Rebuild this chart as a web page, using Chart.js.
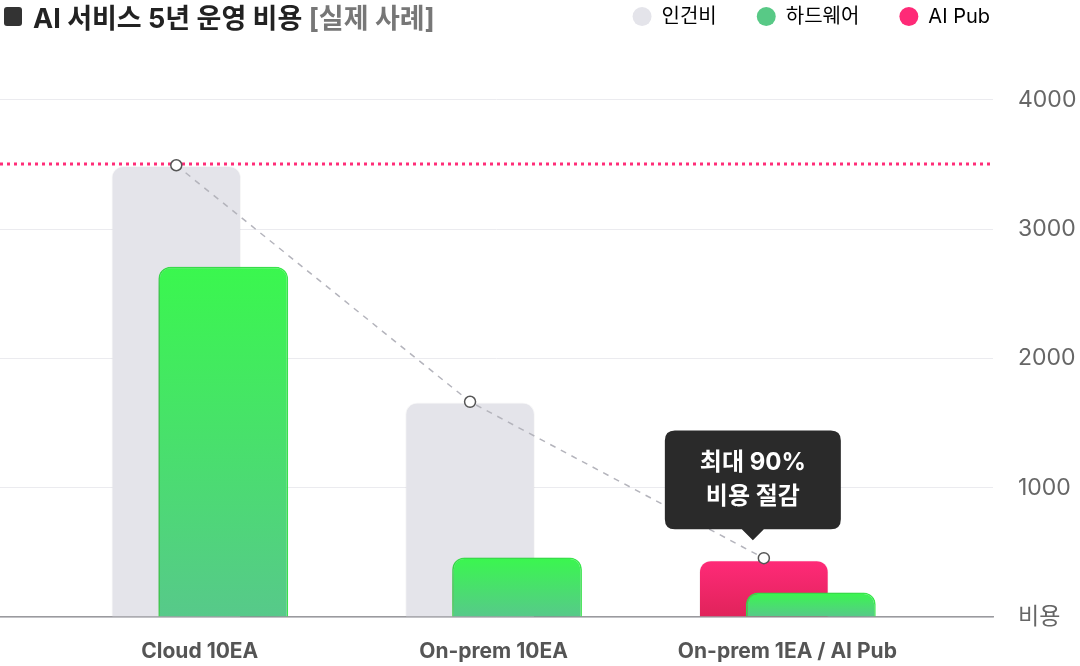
<!DOCTYPE html>
<html lang="ko">
<head>
<meta charset="utf-8">
<script src="https://cdn.jsdelivr.net/npm/chart.js@4/dist/chart.umd.min.js"></script>
<style>
  html, body { margin: 0; padding: 0; background: #fff; }
  #wrap { position: relative; width: 1080px; height: 666px; }
  #title { position: absolute; left: 4px; top: -3px; display: flex; align-items: center;
           font: bold 27px Inter, "Noto Sans CJK KR", sans-serif; color: #222; white-space: pre; }
  #title .box { width: 18px; height: 19px; background: #333; border-radius: 3px; margin-right: 11px; }
  #title .note { color: #777; }
</style>
</head>
<body>
<div id="wrap">
  <canvas id="cost-chart" width="1080" height="666"></canvas>
  <div id="title"><span class="box"></span>AI 서비스 5년 운영 비용 <span class="note">[실제 사례]</span></div>
</div>
<script>
'use strict';

// data
const categories = ['Cloud 10EA', 'On-prem 10EA', 'On-prem 1EA / AI Pub'];
const backSeries = ['인건비', '인건비', 'AI Pub'];
const backValues = [3490, 1660, 440];
const hardwareValues = [2710, 460, 190];
const trendValues = [3495, 1665, 455];
const targetValue = 3505;
const yTickValues = [0, 1000, 2000, 3000, 4000];
const legendLabels = ['인건비', '하드웨어', 'AI Pub'];
const calloutLines = ['최대 90%', '비용 절감'];

// styling / layout
const seriesColors = { '인건비': '#e4e4ea', '하드웨어': '#58c986', 'AI Pub': '#fe2a77' };
const X_MIN = -0.68;
const X_MAX = 2.70;
const Y_MAX = 4491;
const CATEGORY_PCT = 0.32;
const BAR_PCT = 2.76;
const SLOT_SHIFT = CATEGORY_PCT / 4;
const Y_AXIS_WIDTH = 87;
const X_AXIS_HEIGHT = 49;
const LEGEND_SHIFT = 37;

Chart.defaults.font.family = 'Inter, "Noto Sans CJK KR", sans-serif';
Chart.defaults.color = '#666';

function barGradient(topColor, bottomColor) {
    return (context) => {
        const chart = context.chart;
        const yScale = chart.scales.y;
        if (context.type !== 'data' || !yScale) { return topColor; }
        const v = context.raw && typeof context.raw === 'object' ? context.raw.y : context.raw;
        const g = chart.ctx.createLinearGradient(0, yScale.getPixelForValue(v), 0, yScale.getPixelForValue(0));
        g.addColorStop(0, topColor);
        g.addColorStop(1, bottomColor);
        return g;
    };
}

const greenFill = barGradient('#3af74e', '#57c98a');
const pinkFill = barGradient('#ff2a78', '#e0235a');

Chart.Tooltip.positioners.callout = function (items) {
    if (!items.length) { return false; }
    const el = items[0].element;
    return { x: el.x - 11, y: el.y };
};

// right-hand bar of each pair has to sit over the left one
const layerPlugin = {
    id: 'layers',
    afterLayout(chart) {
        // legend ends near the right edge of the plot, not at padding from it
        const lg = chart.legend;
        lg.right = chart.chartArea.right + LEGEND_SHIFT;
        lg.width = lg.right - lg.left;
    },
    beforeDatasetsDraw(chart) {
        const ctx = chart.ctx;
        const area = chart.chartArea;
        chart.getSortedVisibleDatasetMetas().slice()
            .sort((a, b) => a.index - b.index)
            .forEach(meta => {
                ctx.save();
                if (meta.type === 'bar') {
                    ctx.beginPath();
                    ctx.rect(area.left, area.top - 30, area.width, area.height + 30);
                    ctx.clip();
                }
                if (meta.index === 1) {
                    ctx.shadowColor = 'rgba(0, 0, 0, 0.25)';
                    ctx.shadowBlur = 24;
                    ctx.shadowOffsetX = -7;
                    ctx.shadowOffsetY = 4;
                }
                meta.controller.draw();
                ctx.restore();
            });
        return false;
    }
};

const ctx = document.getElementById('cost-chart').getContext('2d');
const costChart = new Chart(ctx, {
    type: 'bar',
    data: {
        datasets: [{
            label: '인건비',
            data: backValues.map((v, i) => ({ x: i, y: v })),
            backgroundColor: (c) => backSeries[c.dataIndex] === 'AI Pub' ? pinkFill(c) : seriesColors['인건비'],
            borderColor: 'rgba(0, 0, 0, 0.03)',
            borderWidth: 1,
            borderSkipped: 'start',
            borderRadius: 12,
            categoryPercentage: CATEGORY_PCT,
            barPercentage: BAR_PCT
        }, {
            label: '하드웨어',
            data: hardwareValues.map((v, i) => ({ x: i, y: v })),
            backgroundColor: greenFill,
            borderColor: '#3cf050',
            borderWidth: 1.5,
            borderSkipped: 'start',
            borderRadius: 12,
            categoryPercentage: CATEGORY_PCT,
            barPercentage: BAR_PCT
        }, {
            type: 'line',
            label: 'target',
            data: [{ x: X_MIN, y: targetValue }, { x: X_MAX, y: targetValue }],
            borderColor: '#ff2d78',
            borderWidth: 3,
            borderDash: [3, 4],
            pointRadius: 0,
            pointHoverRadius: 0
        }, {
            type: 'line',
            label: 'trend',
            data: trendValues.map((v, i) => ({ x: i - SLOT_SHIFT, y: v })),
            borderColor: '#b4b4bc',
            borderWidth: 1.5,
            borderDash: [6, 6],
            pointRadius: 5.5,
            pointHoverRadius: 5.5,
            pointBackgroundColor: '#fff',
            pointBorderColor: '#555',
            pointBorderWidth: 1.5,
            pointHoverBorderWidth: 1.5
        }]
    },
    options: {
        responsive: false,
        animation: false,
        events: [],
        layout: { autoPadding: false, padding: { top: -33.5, left: 0, right: 0, bottom: 0 } },
        scales: {
            x: {
                type: 'linear',
                offset: false,
                min: X_MIN,
                max: X_MAX,
                afterBuildTicks: (scale) => { scale.ticks = categories.map((_, i) => ({ value: i })); },
                afterFit: (scale) => {
                    scale.height = X_AXIS_HEIGHT;
                    scale.paddingLeft = 0;
                    scale.paddingRight = 0;
                },
                grid: { display: false, offset: false, drawTicks: false },
                border: { display: true, color: '#9a9a9e', width: 1.5 },
                ticks: {
                    autoSkip: false,
                    maxRotation: 0,
                    padding: 22,
                    color: '#555',
                    font: { size: 21, weight: 'bold' },
                    callback: (value, index) => categories[index]
                }
            },
            y: {
                position: 'right',
                min: 0,
                max: Y_MAX,
                afterBuildTicks: (scale) => { scale.ticks = yTickValues.map(v => ({ value: v })); },
                afterFit: (scale) => {
                    scale.width = Y_AXIS_WIDTH;
                    scale.paddingTop = 0;
                    scale.paddingBottom = 0;
                },
                grid: { color: '#ebebef', lineWidth: 1, drawTicks: false },
                border: { display: false },
                ticks: {
                    padding: 25,
                    color: '#666',
                    font: { size: 23 },
                    callback: (value) => value === 0 ? '비용' : value
                }
            }
        },
        plugins: {
            legend: {
                position: 'top',
                align: 'end',
                fullSize: false,
                labels: {
                    usePointStyle: true,
                    pointStyle: 'circle',
                    boxWidth: 19,
                    boxHeight: 13.4,
                    padding: 40,
                    color: '#666',
                    font: { size: 20 },
                    generateLabels: () => legendLabels.map((text, i) => ({
                        text: text,
                        fillStyle: seriesColors[text],
                        strokeStyle: seriesColors[text],
                        lineWidth: 0,
                        pointStyle: 'circle',
                        hidden: false,
                        datasetIndex: i
                    }))
                }
            },
            tooltip: {
                position: 'callout',
                xAlign: 'center',
                yAlign: 'bottom',
                backgroundColor: '#2a2a2a',
                bodyColor: '#fff',
                bodyFont: { size: 24, weight: 'bold' },
                bodyAlign: 'center',
                bodySpacing: 5,
                padding: { top: 18, bottom: 18, left: 35, right: 35 },
                cornerRadius: 10,
                caretSize: 11,
                caretPadding: 18,
                displayColors: false,
                filter: (item) => item.datasetIndex === 3,
                callbacks: {
                    title: () => '',
                    label: () => calloutLines
                }
            }
        }
    },
    plugins: [layerPlugin]
});

costChart.tooltip.setActiveElements([{ datasetIndex: 3, index: 2 }], { x: 0, y: 0 });
costChart.update();
</script>
</body>
</html>
